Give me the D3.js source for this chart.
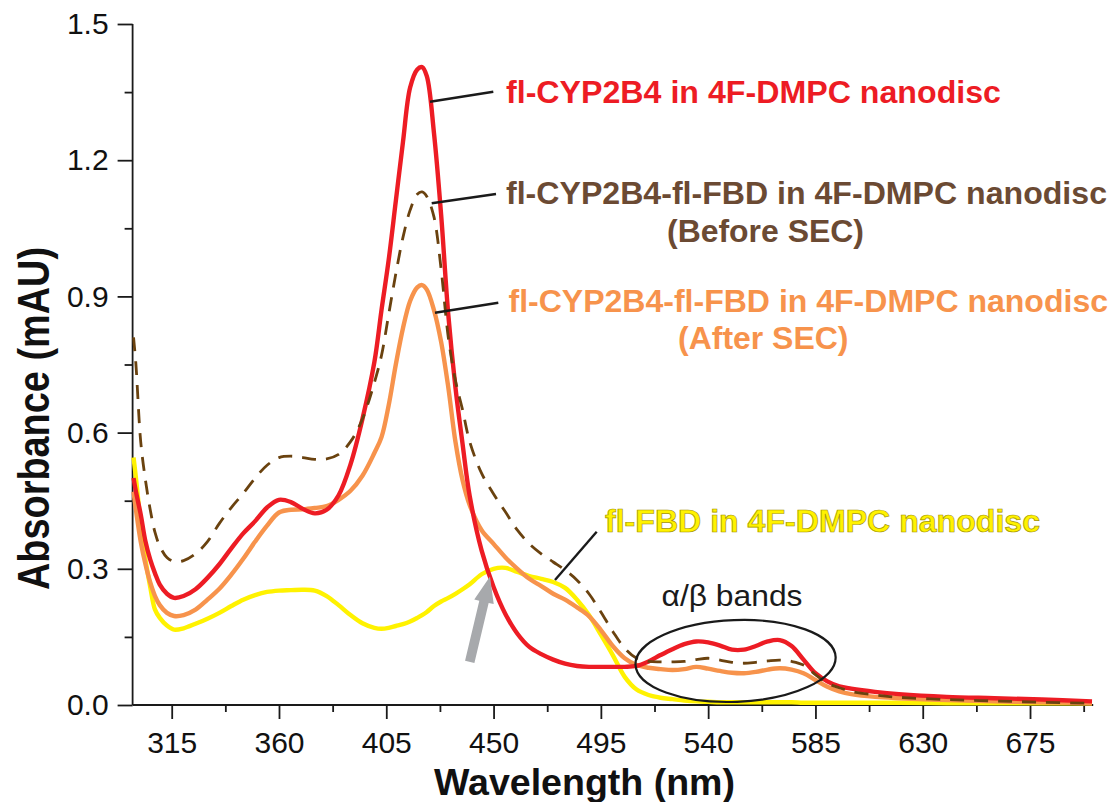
<!DOCTYPE html>
<html>
<head>
<meta charset="utf-8">
<script src="https://cdn.jsdelivr.net/npm/d3@7"></script>
<style>
  html, body { margin: 0; padding: 0; background: #ffffff; }
  svg { display: block; }
  text { font-family: "Liberation Sans", Arial, Helvetica, sans-serif; }
</style>
</head>
<body>
<svg id="chart" width="1111" height="802"></svg>
<script>
// ---------------- DATA ----------------
const wavelengths = [299, 300, 302, 304, 306, 308, 310, 313, 316, 320, 325, 330, 335, 340, 345, 350, 355, 360, 365, 370,
  375, 380, 385, 390, 395, 400, 403, 406, 409, 412, 415, 418, 420, 422, 425, 428, 431, 434, 437, 440,
  445, 450, 455, 460, 465, 470, 475, 480, 485, 490, 495, 500, 505, 510, 515, 520, 525, 530, 535, 540,
  545, 550, 555, 560, 565, 570, 575, 580, 585, 590, 595, 600, 610, 620, 640, 660, 680, 701];

const cypValues = [0.50, 0.47, 0.42, 0.36, 0.32, 0.29, 0.265, 0.245, 0.236, 0.240, 0.255, 0.280, 0.310, 0.345, 0.378, 0.405, 0.435, 0.452, 0.447, 0.432,
  0.422, 0.430, 0.462, 0.530, 0.630, 0.755, 0.87, 0.98, 1.11, 1.24, 1.36, 1.40, 1.405, 1.385, 1.26, 1.08, 0.86, 0.70, 0.575, 0.46,
  0.34, 0.26, 0.20, 0.157, 0.128, 0.112, 0.100, 0.091, 0.086, 0.084, 0.084, 0.084, 0.084, 0.086, 0.096, 0.110, 0.123, 0.134, 0.140, 0.138,
  0.131, 0.122, 0.122, 0.130, 0.140, 0.143, 0.130, 0.100, 0.070, 0.052, 0.041, 0.036, 0.029, 0.024, 0.018, 0.015, 0.012, 0.008];

const beforeSecValues = [0.81, 0.75, 0.58, 0.495, 0.43, 0.38, 0.35, 0.325, 0.316, 0.318, 0.333, 0.360, 0.400, 0.435, 0.466, 0.500, 0.528, 0.545, 0.548, 0.545,
  0.541, 0.542, 0.552, 0.580, 0.630, 0.71, 0.77, 0.86, 0.95, 1.03, 1.09, 1.125, 1.13, 1.12, 1.075, 0.96, 0.81, 0.715, 0.65, 0.58,
  0.51, 0.465, 0.425, 0.385, 0.355, 0.333, 0.315, 0.297, 0.275, 0.245, 0.205, 0.162, 0.125, 0.103, 0.096, 0.095, 0.095, 0.096, 0.100, 0.103,
  0.099, 0.094, 0.092, 0.094, 0.097, 0.099, 0.096, 0.088, 0.067, 0.048, 0.038, 0.030, 0.022, 0.017, 0.012, 0.009, 0.006, 0.004];

const afterSecValues = [0.47, 0.43, 0.36, 0.31, 0.27, 0.24, 0.22, 0.203, 0.196, 0.198, 0.210, 0.232, 0.256, 0.287, 0.322, 0.360, 0.395, 0.424, 0.430, 0.431,
  0.434, 0.438, 0.452, 0.472, 0.505, 0.555, 0.59, 0.66, 0.75, 0.83, 0.89, 0.92, 0.925, 0.915, 0.87, 0.80, 0.70, 0.58, 0.495, 0.44,
  0.385, 0.355, 0.325, 0.300, 0.278, 0.262, 0.245, 0.232, 0.215, 0.196, 0.165, 0.130, 0.103, 0.088, 0.082, 0.079, 0.077, 0.079, 0.084, 0.080,
  0.075, 0.071, 0.070, 0.073, 0.078, 0.081, 0.078, 0.070, 0.055, 0.040, 0.030, 0.024, 0.018, 0.015, 0.011, 0.008, 0.006, 0.004];

const fbdValues = [0.545, 0.50, 0.40, 0.32, 0.26, 0.21, 0.192, 0.175, 0.166, 0.169, 0.179, 0.190, 0.203, 0.218, 0.232, 0.242, 0.249, 0.252, 0.253, 0.254,
  0.252, 0.240, 0.220, 0.198, 0.180, 0.170, 0.168, 0.170, 0.174, 0.178, 0.184, 0.192, 0.198, 0.205, 0.218, 0.228, 0.236, 0.245, 0.255, 0.266,
  0.288, 0.300, 0.302, 0.293, 0.284, 0.278, 0.271, 0.258, 0.232, 0.198, 0.155, 0.110, 0.062, 0.034, 0.022, 0.016, 0.013, 0.010, 0.008, 0.007,
  0.006, 0.006, 0.006, 0.006, 0.006, 0.006, 0.006, 0.005, 0.005, 0.005, 0.005, 0.005, 0.005, 0.005, 0.004, 0.004, 0.004, 0.004];

const xMajorTicks = [315, 360, 405, 450, 495, 540, 585, 630, 675];
const xMinorTicks = [337.5, 382.5, 427.5, 472.5, 517.5, 562.5, 607.5, 652.5, 697.5];
const yMajorTicks = [0.0, 0.3, 0.6, 0.9, 1.2, 1.5];
const yMinorTicks = [0.15, 0.45, 0.75, 1.05, 1.35];

const seriesLabels = {
  cyp: ["fl-CYP2B4 in 4F-DMPC nanodisc"],
  before: ["fl-CYP2B4-fl-FBD in 4F-DMPC nanodisc", "(Before SEC)"],
  after: ["fl-CYP2B4-fl-FBD in 4F-DMPC nanodisc", "(After SEC)"],
  fbd: ["fl-FBD in 4F-DMPC nanodisc"]
};
const xTitle = "Wavelength (nm)";
const yTitle = "Absorbance (mAU)";
const bandsLabel = "\u03B1/\u03B2 bands";

// ---------------- LAYOUT ----------------
const svg = d3.select("#chart");
const x = d3.scaleLinear().domain([298.6, 701.5]).range([132.6, 1093.2]);
const y = d3.scaleLinear().domain([0, 1.5]).range([705, 24]);

const COLORS = {
  red: "#ed1c24",
  orange: "#f7934c",
  yellow: "#fff200",
  brownLine: "#6a420f",
  brownText: "#6b4a33",
  axis: "#1a1a1a",
  gray: "#a7a9ac"
};

// ---------------- AXES ----------------
const fontTick = 30;

const xAxisMajor = d3.axisBottom(x).tickValues(xMajorTicks).tickSize(14).tickPadding(13)
  .tickFormat(d3.format("d"));
const xAxisMinor = d3.axisBottom(x).tickValues(xMinorTicks).tickSize(7).tickFormat("");
const yAxisMajor = d3.axisLeft(y).tickValues(yMajorTicks).tickSize(15).tickPadding(9)
  .tickFormat(d3.format(".1f"));
const yAxisMinor = d3.axisLeft(y).tickValues(yMinorTicks).tickSize(8).tickFormat("");

function styleAxis(g) {
  g.selectAll("path.domain").attr("stroke", COLORS.axis).attr("stroke-width", 1.8);
  g.selectAll(".tick line").attr("stroke", COLORS.axis).attr("stroke-width", 1.8);
  g.selectAll(".tick text").attr("fill", "#111").style("font-size", fontTick + "px")
    .style("font-family", "'Liberation Sans', Arial, sans-serif");
}

const gxMinor = svg.append("g").attr("transform", `translate(0,${y(0)})`).call(xAxisMinor);
gxMinor.select("path.domain").remove();
styleAxis(gxMinor);
const gx = svg.append("g").attr("transform", `translate(0,${y(0)})`).call(xAxisMajor);
styleAxis(gx);
gx.select("path.domain").attr("d", `M${x.range()[0]},0H${x.range()[1]}`);

const gyMinor = svg.append("g").attr("transform", `translate(${x.range()[0]},0)`).call(yAxisMinor);
gyMinor.select("path.domain").remove();
styleAxis(gyMinor);
const gy = svg.append("g").attr("transform", `translate(${x.range()[0]},0)`).call(yAxisMajor);
styleAxis(gy);
gy.select("path.domain").attr("d", `M0,${y.range()[1]}V${y.range()[0]}`);

// axis titles
svg.append("text")
  .attr("x", 584.5).attr("y", 795)
  .attr("text-anchor", "middle")
  .attr("textLength", 301).attr("lengthAdjust", "spacingAndGlyphs")
  .style("font-size", "36px").style("font-weight", "bold").attr("fill", "#111")
  .text(xTitle);

svg.append("text")
  .attr("transform", "translate(49,418.5) rotate(-90)")
  .attr("text-anchor", "middle")
  .attr("textLength", 343).attr("lengthAdjust", "spacingAndGlyphs")
  .style("font-size", "44px").style("font-weight", "bold").attr("fill", "#111")
  .text(yTitle);

// ---------------- LINES ----------------
const line = d3.line()
  .x(d => x(d[0]))
  .y(d => y(d[1]))
  .curve(d3.curveCatmullRom.alpha(0.5));

function series(vals) { return wavelengths.map((w, i) => [w, vals[i]]); }

svg.append("path").datum(series(fbdValues))
  .attr("d", line).attr("fill", "none")
  .attr("stroke", COLORS.yellow).attr("stroke-width", 4.4).attr("stroke-linejoin", "round");

svg.append("path").datum(series(afterSecValues))
  .attr("d", line).attr("fill", "none")
  .attr("stroke", COLORS.orange).attr("stroke-width", 4.4).attr("stroke-linejoin", "round");

svg.append("path").datum(series(cypValues))
  .attr("d", line).attr("fill", "none")
  .attr("stroke", COLORS.red).attr("stroke-width", 4.4).attr("stroke-linejoin", "round");

svg.append("path").datum(series(beforeSecValues))
  .attr("d", line).attr("fill", "none")
  .attr("stroke", COLORS.brownLine).attr("stroke-width", 2.8)
  .attr("stroke-dasharray", "14,10");

// ---------------- ANNOTATIONS ----------------
// leader lines
const leaders = [
  [430, 101.7, 493.3, 91.7],
  [431.7, 203.3, 496, 194],
  [435, 312.7, 498.3, 302.7],
  [555, 580, 596.7, 531.7]
];
svg.selectAll("line.leader").data(leaders).enter().append("line")
  .attr("class", "leader")
  .attr("x1", d => d[0]).attr("y1", d => d[1])
  .attr("x2", d => d[2]).attr("y2", d => d[3])
  .attr("stroke", "#1a1a1a").attr("stroke-width", 2.4);

// legend texts
function label(txt, xPos, yPos, width, color, extra) {
  const t = svg.append("text")
    .attr("x", xPos).attr("y", yPos)
    .attr("textLength", width).attr("lengthAdjust", "spacingAndGlyphs")
    .style("font-size", "31px").style("font-weight", "bold")
    .attr("fill", color).text(txt);
  if (extra) extra(t);
  return t;
}
label(seriesLabels.cyp[0], 506, 103, 495, COLORS.red);
label(seriesLabels.before[0], 506, 204, 601, COLORS.brownText);
label(seriesLabels.before[1], 667, 242, 197, COLORS.brownText);
label(seriesLabels.after[0], 508.5, 312, 599.5, COLORS.orange);
label(seriesLabels.after[1], 678, 349, 170.5, COLORS.orange);
label(seriesLabels.fbd[0], 605, 532, 435, COLORS.yellow, t =>
  t.attr("stroke", "#a39400").attr("stroke-width", 0.7));

// alpha/beta ellipse
const ellCx = x(551.5), ellCy = y(0.097);
svg.append("ellipse")
  .attr("cx", ellCx).attr("cy", ellCy)
  .attr("rx", x(593.5) - x(551.5)).attr("ry", y(0) - y(0.09))
  .attr("transform", `rotate(-2.2,${ellCx},${ellCy})`)
  .attr("fill", "none").attr("stroke", "#1a1a1a").attr("stroke-width", 2.2);

svg.append("text")
  .attr("x", 732).attr("y", 606)
  .attr("text-anchor", "middle")
  .attr("textLength", 141).attr("lengthAdjust", "spacingAndGlyphs")
  .style("font-size", "29px").attr("fill", "#1a1a1a")
  .text(bandsLabel);

// gray arrow pointing at the red/yellow crossing
(function () {
  const tail = [x(440), y(0.095)];
  const tip = [x(448.5), y(0.283)];
  const dx = tip[0] - tail[0], dy = tip[1] - tail[1];
  const L = Math.hypot(dx, dy);
  const ux = dx / L, uy = dy / L;
  const px = -uy, py = ux;
  const headLen = 26, shaftW = 4.8, headW = 10;
  const bx = tip[0] - ux * headLen, by = tip[1] - uy * headLen;
  const pts = [
    [tail[0] + px * shaftW, tail[1] + py * shaftW],
    [bx + px * shaftW, by + py * shaftW],
    [bx + px * headW, by + py * headW],
    tip,
    [bx - px * headW, by - py * headW],
    [bx - px * shaftW, by - py * shaftW],
    [tail[0] - px * shaftW, tail[1] - py * shaftW]
  ];
  svg.append("path")
    .attr("d", "M" + pts.map(p => p.join(",")).join("L") + "Z")
    .attr("fill", COLORS.gray);
})();
</script>
</body>
</html>
